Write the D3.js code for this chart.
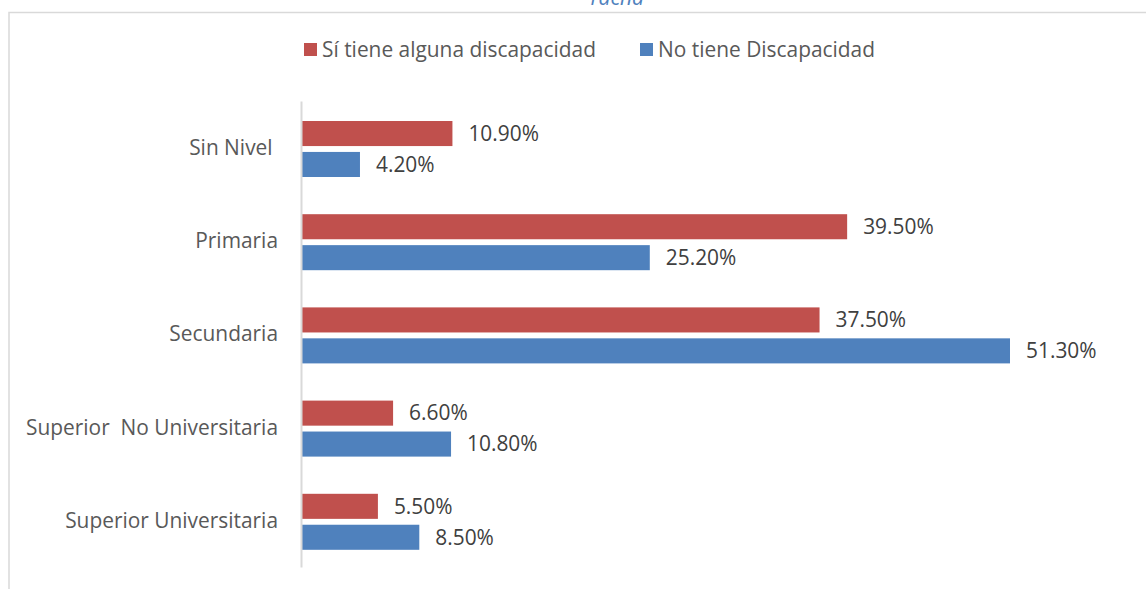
<!DOCTYPE html>
<html><head><meta charset="utf-8">
<script src="https://cdn.jsdelivr.net/npm/d3@7"></script>
<style>body{margin:0;background:#fff;} svg{display:block;} text{white-space:pre;}</style>
</head><body>
<svg id="chart" width="1146" height="589"></svg>
<script>
const categories = ["Sin Nivel ", "Primaria", "Secundaria", "Superior  No Universitaria", "Superior Universitaria"];
const seriesNames = ["Sí tiene alguna discapacidad", "No tiene Discapacidad"];
const siTiene = [10.9, 39.5, 37.5, 6.6, 5.5];
const noTiene = [4.2, 25.2, 51.3, 10.8, 8.5];
const colors = ["#C0504D", "#4F81BD"];

const svg = d3.select("#chart");
const font = "'Open Sans', sans-serif";
const textColor = "#595959";
const fs = 20.9;

// frame
svg.append("path").attr("d", "M9,589 L9,12.5 L1146,12.5")
  .attr("fill", "none").attr("stroke", "#d9d9d9").attr("stroke-width", 1.5);

// cut-off title
svg.append("text").attr("x", 616).attr("y", 5).attr("text-anchor", "middle")
  .attr("font-family", font).attr("font-style", "italic").attr("font-size", 21)
  .attr("fill", "#4F81BD").text("Tacna");

const x = d3.scaleLinear().domain([0, 51.3]).range([302, 1010]);
const y0 = d3.scaleBand().domain(categories).range([101, 567]).padding(0);
const y1 = d3.scaleBand().domain([0, 1]).range([20, 76]).paddingInner(0.19);

const data = categories.map((c, i) => ({cat: c, vals: [siTiene[i], noTiene[i]]}));

const g = svg.append("g");
data.forEach(d => {
  d.vals.forEach((v, s) => {
    const yy = y0(d.cat) + y1(s);
    g.append("rect").attr("x", x(0)).attr("y", yy)
      .attr("width", x(v) - x(0)).attr("height", y1.bandwidth())
      .attr("fill", colors[s]);
    g.append("text").attr("x", x(v) + 16).attr("y", yy + y1.bandwidth() / 2)
      .attr("dy", "0.35em").attr("font-family", font).attr("font-size", fs)
      .attr("fill", "#404040").text(v.toFixed(2) + "%");
  });
});

// axis
const yAxis = d3.axisLeft(y0).tickSize(0).tickPadding(23);
const ax = svg.append("g").attr("transform", "translate(301,0)").call(yAxis);
ax.select(".domain").attr("stroke", "#d9d9d9").attr("stroke-width", 2);
ax.selectAll("text").attr("font-family", font).attr("font-size", fs).attr("fill", textColor)
  .attr("dy", "0.35em");

// legend
const legendX = [304, 640];
seriesNames.forEach((n, i) => {
  svg.append("rect").attr("x", legendX[i]).attr("y", 43).attr("width", 13).attr("height", 13).attr("fill", colors[i]);
  svg.append("text").attr("x", legendX[i] + 18).attr("y", 50).attr("dy", "0.35em")
    .attr("font-family", font).attr("font-size", fs).attr("fill", textColor).text(n);
});
</script>
</body></html>
